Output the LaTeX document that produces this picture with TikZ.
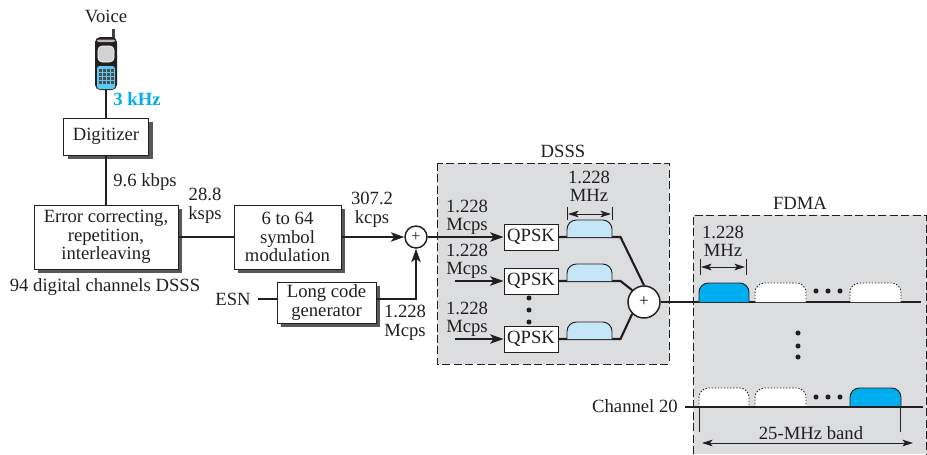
\documentclass[tikz,border=0pt]{standalone}
\usepackage{fontspec}
\setmainfont{Liberation Serif}
\usetikzlibrary{arrows.meta,shadows}
\definecolor{ink}{HTML}{231F20}
\definecolor{panel}{HTML}{DCDDDF}
\definecolor{sky}{HTML}{C5E6F7}
\definecolor{azure}{HTML}{00AEEF}
\definecolor{shade}{HTML}{58585A}
\tikzset{
  lab/.style={text=ink,align=center,inner sep=0pt,font=\fontsize{14}{13.9}\selectfont},
  blockbox/.style={lab,draw=ink,line width=0.7pt,fill=white,inner sep=0pt,
    drop shadow={shadow xshift=3pt,shadow yshift=-3pt,fill=shade,opacity=1}},
  qbox/.style={lab,draw=ink,line width=0.7pt,fill=white,minimum width=40.5pt,minimum height=19.5pt},
  wire/.style={draw=ink,line width=1.6pt},
  thin wire/.style={draw=ink,line width=1pt},
  arrowed/.style={-{Stealth[length=10pt,width=7pt,inset=2.5pt]}},
  dim/.style={draw=ink,line width=0.6pt,{Stealth[length=8pt,width=5pt,inset=2pt]}-{Stealth[length=8pt,width=5pt,inset=2pt]}},
  tick/.style={draw=ink,line width=0.6pt},
  panelbox/.style={fill=panel,draw=none},
  dashline/.style={draw=ink,line width=0.75pt,dash pattern=on 6pt off 2.6pt},
  bump/.style={rounded corners=7pt,draw=ink,line width=0.7pt},
  ghost/.style={rounded corners=7pt,draw=ink,line width=0.7pt,fill=white,dash pattern=on 1pt off 1.3pt},
  dotmark/.style={circle,fill=ink,inner sep=0pt,minimum size=3.8pt},
  sumnode/.style={circle,draw=ink,line width=1.1pt,fill=white,inner sep=0pt,text=ink}
}
\begin{document}
\begin{tikzpicture}[x=0.75pt,y=-0.75pt]
\useasboundingbox (0,0) rectangle (927,454);
% panels
\fill[panelbox] (437,163) rectangle (669,364);
\draw[dashline] (437,163) rectangle (669,364);
\fill[panelbox] (693,215) rectangle (927,454);
\draw[dashline] (693,454) -- (693,215) -- (926,215) -- (926,454);
% phone
\fill[ink!85] (112,29) rectangle (114.5,42);
\fill[ink,rounded corners=4pt] (95,37) rectangle (117,90);
\fill[gray!55,rounded corners=1.5pt] (97,39.5) rectangle (115,42);
\fill[gray!35,rounded corners=3pt,draw=white,line width=0.4pt] (98,46) rectangle (114,62);
\fill[azure!65,rounded corners=2pt] (97,66) rectangle (115,89);
\foreach \r in {69,73,77,81}{\foreach \c in {99,103,107,111}{\fill[ink!80] (\c,\r) rectangle +(3.2,3);}}
\coordinate (phonebot) at (106,90);
% nodes
\node[lab] (voice) at (106,16) {Voice};
\node[lab,text=azure,font=\fontsize{14}{14}\selectfont\bfseries] (khz) at (137,99) {3 kHz};
\node[blockbox,minimum width=63.75pt,minimum height=27.75pt] (dig) at (106,136.5) {Digitizer};
\node[blockbox,minimum width=108pt,minimum height=48pt] (err) at (106,237) {Error correcting,\\repetition,\\interleaving};
\node[blockbox,minimum width=80.25pt,minimum height=48pt] (sym) at (287.5,237) {6 to 64\\symbol\\modulation};
\node[blockbox,minimum width=74.25pt,minimum height=30.75pt] (long) at (326.5,302.5) {Long code\\generator};
\node[sumnode,minimum size=16.5pt,font=\fontsize{12}{12}\selectfont] (sumA) at (416,237) {+};
\node[qbox] (q1) at (531,237) {QPSK};
\node[qbox] (q2) at (531,281) {QPSK};
\node[qbox] (q3) at (531,339) {QPSK};
\node[sumnode,minimum size=24pt,font=\fontsize{13}{13}\selectfont] (sumB) at (644,302) {+};
\node[lab] (esn) at (233,299) {ESN};
\node[lab] at (145,182) {9.6 kbps};
\node[lab] at (205,206) {28.8\\ksps};
\node[lab] at (372,210) {307.2\\kcps};
\node[lab] at (105,287) {94 digital channels DSSS};
\node[lab] at (405,323) {1.228\\Mcps};
\node[lab] at (563,151) {DSSS};
\node[lab] at (589,186.5) {1.228\\MHz};
\node[lab] at (467,217.5) {1.228\\Mcps};
\node[lab] at (467,261.5) {1.228\\Mcps};
\node[lab] at (467,319.5) {1.228\\Mcps};
\node[lab] at (800,203) {FDMA};
\node[lab] at (723,241.5) {1.228\\MHz};
\node[lab,anchor=east] (ch) at (678,406) {Channel 20};
\node[lab] at (811,433) {25-MHz band};
% left connectors
\draw[wire] (phonebot) -- (dig.north);
\draw[wire] (dig.south) -- (err.north);
\draw[wire] (err.east) -- (sym.west);
\draw[wire,arrowed] (sym.east) -- (sumA.west);
\coordinate (esnend) at (258,299);
\draw[thin wire] (esnend) -- (long.west |- esnend);
\draw[wire,arrowed] (long.east |- esnend) -| (sumA.south);
% DSSS connectors
\draw[wire,arrowed] (sumA.east) -- (q1.west);
\coordinate (in2) at (455,281);
\coordinate (in3) at (455,339);
\draw[wire,arrowed] (in2) -- (q2.west);
\draw[wire,arrowed] (in3) -- (q3.west);
\draw[wire] (q1.east) -- ++(62,0) -- (sumB.north);
\draw[wire] (q2.east) -- ++(62,0) -- (sumB.north west);
\draw[wire] (q3.east) -- ++(62,0) -- (sumB.south west);
\draw[wire] (sumB.east) -- (921,302);
% DSSS bumps
\foreach \y in {237,281,339}{
  \filldraw[bump,fill=sky] (567,\y) -- (567,\y-17) -- (612,\y-17) -- (612,\y);
}
\draw[tick] (567,207) -- (567,220) (612,207) -- (612,220);
\draw[dim] (568,214) -- (611,214);
\foreach \y in {298,310,322}{\node[dotmark] at (529,\y) {};}
% FDMA upper row
\filldraw[bump,fill=azure] (699,302) -- (699,283) -- (749,283) -- (749,302);
\filldraw[ghost] (755,302) -- (755,283) -- (806,283) -- (806,302);
\filldraw[ghost] (850,302) -- (850,283) -- (901,283) -- (901,302);
\foreach \x in {816,828,840}{\node[dotmark] at (\x,291) {};}
\draw[tick] (700,259) -- (700,275) (746,259) -- (746,275);
\draw[dim] (701,267) -- (745,267);
% vertical dots
\foreach \y in {333,346,357}{\node[dotmark] at (798,\y) {};}
% FDMA lower row
\filldraw[ghost] (699,407) -- (699,388) -- (749,388) -- (749,407);
\filldraw[ghost] (755,407) -- (755,388) -- (806,388) -- (806,407);
\filldraw[bump,fill=azure] (850,407) -- (850,388) -- (901,388) -- (901,407);
\foreach \x in {816,828,840}{\node[dotmark] at (\x,397) {};}
\coordinate (base) at (923,407);
\draw[wire] (ch.east) ++(7,1) -- (base);
\draw[tick] (699,408) -- (699,432) (900,408) -- (900,432);
\draw[dim] (702,443) -- (913,443);
\end{tikzpicture}
\end{document}
